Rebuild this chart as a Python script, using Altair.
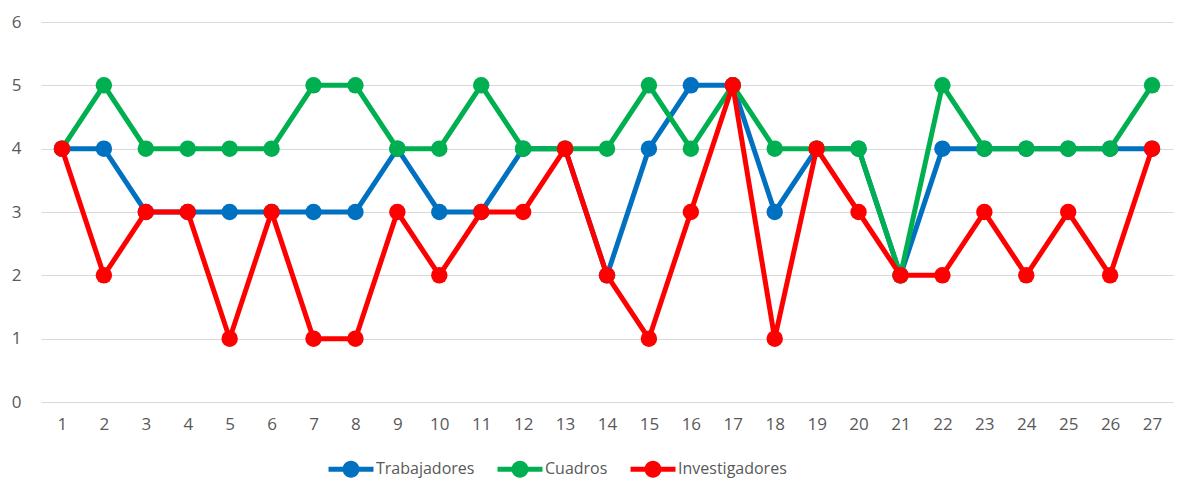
import altair as alt
import pandas as pd

categorias = list(range(1, 28))
trabajadores = [4, 4, 3, 3, 3, 3, 3, 3, 4, 3, 3, 4, 4, 2, 4, 5, 5, 3, 4, 4, 2, 4, 4, 4, 4, 4, 4]
cuadros = [4, 5, 4, 4, 4, 4, 5, 5, 4, 4, 5, 4, 4, 4, 5, 4, 5, 4, 4, 4, 2, 5, 4, 4, 4, 4, 5]
investigadores = [4, 2, 3, 3, 1, 3, 1, 1, 3, 2, 3, 3, 4, 2, 1, 3, 5, 1, 4, 3, 2, 2, 3, 2, 3, 2, 4]

series_names = ["Trabajadores", "Cuadros", "Investigadores"]
series_values = [trabajadores, cuadros, investigadores]
colors = ["#0070C0", "#00B050", "#FF0000"]

rows = []
for name, vals in zip(series_names, series_values):
    for c, v in zip(categorias, vals):
        rows.append({"cat": c, "valor": v, "serie": name})
df = pd.DataFrame(rows)

FONT = "Open Sans"
color_scale = alt.Scale(domain=series_names, range=colors)
x_enc = alt.X("cat:O", sort=categorias,
              scale=alt.Scale(type="point", padding=0.5),
              axis=alt.Axis(title=None, labelAngle=0, ticks=False, domain=False,
                            grid=False, labelPadding=14, labelFont=FONT,
                            labelFontSize=17, labelColor="#595959"))
y_enc = alt.Y("valor:Q", scale=alt.Scale(domain=[0, 6], nice=False, zero=True),
              axis=alt.Axis(title=None, values=[0, 1, 2, 3, 4, 5, 6], ticks=False,
                            domain=False, grid=True, labelPadding=20,
                            gridColor="#d9d9d9", gridWidth=1, labelFont=FONT,
                            labelFontSize=17, labelColor="#595959"))

# line-with-marker legend glyph; extends beyond the unit box horizontally
legend_path = ("M-2.81,-0.31 L2.81,-0.31 L2.81,0.31 L-2.81,0.31 Z "
               "M1.06,0 A1.06,1.06 0 1,1 -1.06,0 A1.06,1.06 0 1,1 1.06,0 Z")

legend = alt.Legend(title=None, orient="none", direction="horizontal",
                    legendX=302, legendY=439, padding=0,
                    symbolType=legend_path, symbolSize=256,
                    symbolStrokeWidth=0, symbolOpacity=1,
                    labelFontSize=16, labelColor="#595959",
                    labelFont=FONT, labelOffset=17, columnPadding=22)
color_enc = alt.Color("serie:N", scale=color_scale, legend=legend)

layers = []
for name in series_names:
    base = alt.Chart(df).transform_filter(alt.datum.serie == name)
    line = base.mark_line(strokeWidth=5).encode(x=x_enc, y=y_enc, color=color_enc)
    pt = base.mark_point(filled=True, size=270, opacity=1).encode(
        x=x_enc, y=y_enc, color=color_enc)
    layers += [line, pt]

chart = alt.layer(*layers).properties(
    width=1132, height=380,
    autosize=alt.AutoSizeParams(type="none"),
    padding={"left": 33, "top": 14, "right": 12, "bottom": 78},
).configure_view(stroke=None)

chart.save("out.html", embed_options={"renderer": "svg", "actions": False})
